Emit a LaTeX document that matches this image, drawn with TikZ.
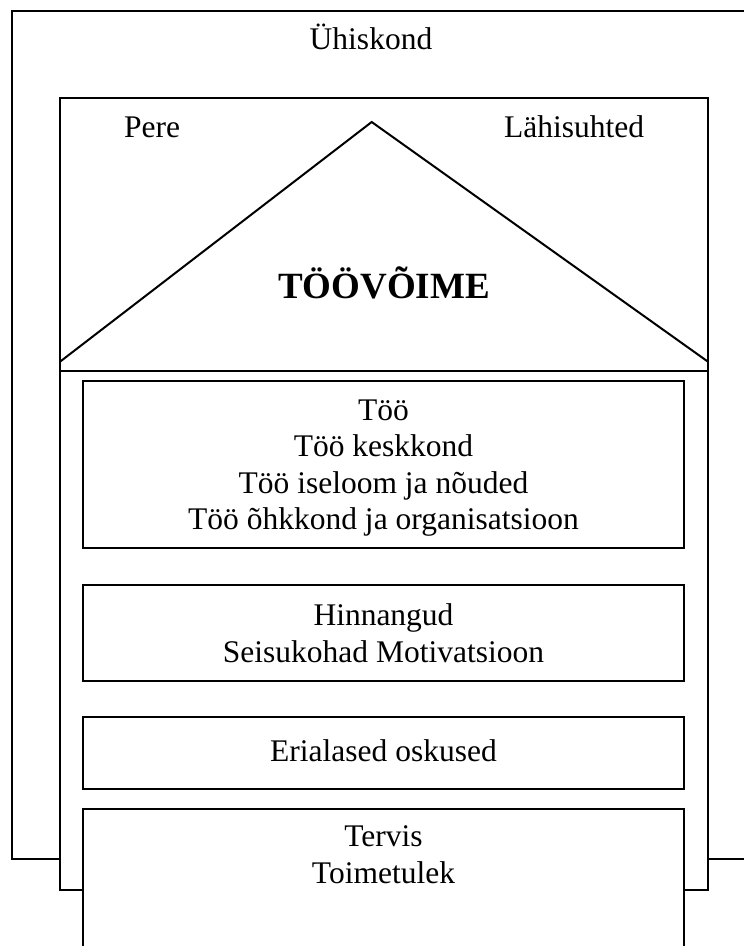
\documentclass[tikz,border=0pt]{standalone}
\usepackage{fontspec}
\setmainfont{Liberation Serif}
\begin{document}
\begin{tikzpicture}[x=1pt,y=-1pt,
  frame/.style={draw=black, line width=2pt, fill=white, inner sep=0pt, outer sep=0pt},
  txt/.style={font=\fontsize{31.5}{36.5}\selectfont, align=center, inner sep=0pt, anchor=base}]
\useasboundingbox (0,0) rectangle (744,946);
\clip (0,0) rectangle (744,946);
% outer society frame
\node[frame, minimum width=768pt, minimum height=848pt] (society) at (396,435) {};
% middle house frame
\node[frame, minimum width=648pt, minimum height=792pt] (house) at (384,494) {};
\coordinate (apex) at (371.7,122);
\coordinate (roofL) at (60,361.7);
\coordinate (roofR) at (708,361.7);
\coordinate (floorL) at (60,371);
\coordinate (floorR) at (708,371);
\draw[line width=2pt, line join=miter] (roofL) -- (apex) -- (roofR);
\draw[line width=2pt] (floorL) -- (floorR);
% inner boxes
\node[frame, minimum width=601pt, minimum height=167pt] (work) at (383.5,464.5) {};
\node[frame, minimum width=601pt, minimum height=96pt] (values) at (383.5,633) {};
\node[frame, minimum width=601pt, minimum height=72pt] (skills) at (383.5,753) {};
\node[frame, minimum width=601pt, minimum height=180pt] (health) at (383.5,899) {};
% texts (multi-line nodes anchored at the baseline of their last line)
\node[txt] (tsociety) at (371,49) {Ühiskond};
\node[txt] (tpere) at (152,137) {Pere};
\node[txt] (tlahi) at (574,137) {Lähisuhted};
\node[txt, font=\fontsize{37}{42}\selectfont\bfseries] (ttv) at (384,298) {TÖÖVÕIME};
\node[txt] (twork) at (383.5,529.5) {Töö\\Töö keskkond\\Töö iseloom ja nõuded\\Töö õhkkond ja organisatsioon};
\node[txt] (tvalues) at (383.5,662) {Hinnangud\\Seisukohad Motivatsioon};
\node[txt] (tskills) at (383.5,761) {Erialased oskused};
\node[txt] (thealth) at (383.5,883) {Tervis\\Toimetulek};
\end{tikzpicture}
\end{document}
